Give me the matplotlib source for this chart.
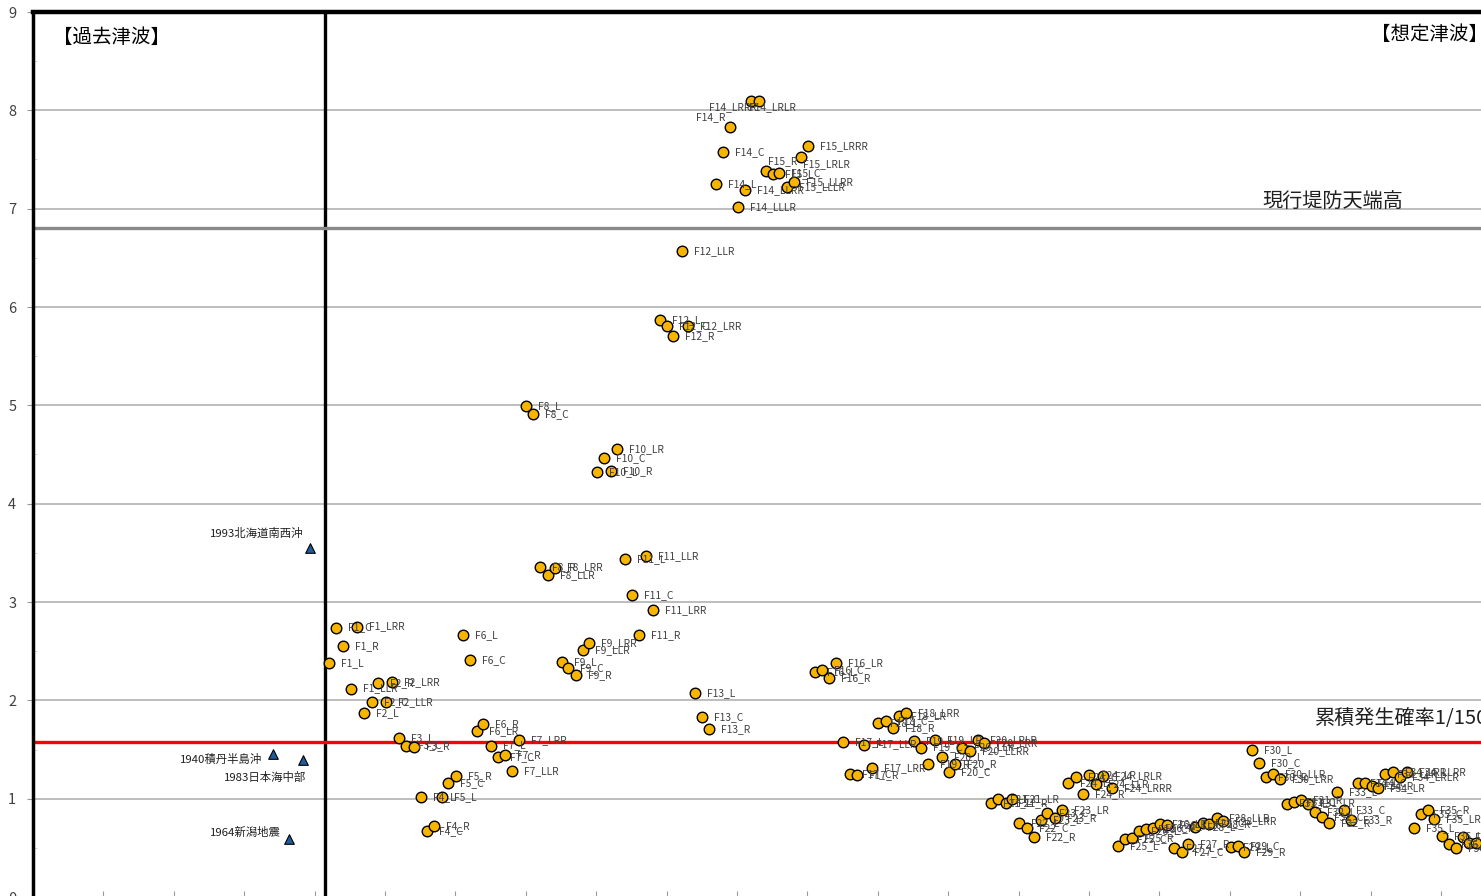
import numpy as np
import matplotlib
matplotlib.use('agg')
import matplotlib.pyplot as plt

plt.rcParams['font.family'] = ['Noto Sans CJK JP', 'DejaVu Sans']

# 過去津波 (past tsunamis)
past_names = ['1993北海道南西沖', '1940積丹半島沖', '1983日本海中部', '1964新潟地震']
past_x = [27.7, 24.0, 27.0, 25.6]
past_y = [3.55, 1.45, 1.39, 0.59]

# 想定津波 (scenario faults)
case_names = [
    'F1_L', 'F1_R', 'F1_C', 'F1_LRR', 'F1_LLR',
    'F2_L', 'F2_C', 'F2_LLR', 'F2_R', 'F2_LRR',
    'F3_L', 'F3_C', 'F3_R',
    'F4_L', 'F4_C', 'F4_R',
    'F5_L', 'F5_C', 'F5_R',
    'F6_L', 'F6_C', 'F6_LR', 'F6_R',
    'F7_L', 'F7_C', 'F7_R', 'F7_LLR', 'F7_LRR',
    'F8_L', 'F8_C', 'F8_R', 'F8_LLR', 'F8_LRR',
    'F9_L', 'F9_C', 'F9_R', 'F9_LLR', 'F9_LRR',
    'F10_L', 'F10_C', 'F10_R', 'F10_LR',
    'F11_L', 'F11_C', 'F11_R', 'F11_LLR', 'F11_LRR',
    'F12_L', 'F12_C', 'F12_R', 'F12_LLR', 'F12_LRR',
    'F13_L', 'F13_C', 'F13_R',
    'F14_L', 'F14_C', 'F14_R', 'F14_LLLR', 'F14_LLRR', 'F14_LRRR', 'F14_LRLR',
    'F15_R', 'F15_L', 'F15_C', 'F15_LLLR', 'F15_LLRR', 'F15_LRLR', 'F15_LRRR',
    'F16_L', 'F16_C', 'F16_R', 'F16_LR',
    'F17_L', 'F17_C', 'F17_R', 'F17_LLR', 'F17_LRR',
    'F18_L', 'F18_C', 'F18_R', 'F18_LR', 'F18_LRR',
    'F19_L', 'F19_C', 'F19_R', 'F19_LR',
    'F20_L', 'F20_C', 'F20_R', 'F20_LLR', 'F20_LLRR', 'F20_LRLR', 'F20_LRR',
    'F21_L', 'F21_C', 'F21_R', 'F21_LR',
    'F22_L', 'F22_C', 'F22_R',
    'F23_L', 'F23_C', 'F23_R', 'F23_LR',
    'F24_L', 'F24_C', 'F24_R', 'F24_LR', 'F24_LLR', 'F24_LRLR', 'F24_LRRR',
    'F25_L', 'F25_C', 'F25_R',
    'F26_L', 'F26_C', 'F26_R', 'F26_LR', 'F26_LLR',
    'F27_L', 'F27_C', 'F27_R',
    'F28_L', 'F28_C', 'F28_R', 'F28_LLR', 'F28_LRR',
    'F29_L', 'F29_C', 'F29_R',
    'F30_L', 'F30_C', 'F30_R', 'F30_LLR', 'F30_LRR',
    'F31_L', 'F31_C', 'F31_R', 'F31_LR',
    'F32_L', 'F32_C', 'F32_R',
    'F33_L', 'F33_C', 'F33_R',
    'F34_L', 'F34_C', 'F34_R', 'F34_LR', 'F34_LLR', 'F34_LRR', 'F34_LRLR', 'F34_LLRR',
    'F35_L', 'F35_C', 'F35_R', 'F35_LR',
    'F36_L', 'F36_C', 'F36_R', 'F36_LR', 'F36_LLR', 'F36_LRR',
]
case_x = [
    29.6, 31.0, 30.3, 32.4, 31.8,
    33.1, 33.9, 35.3, 34.5, 35.9,
    36.6, 37.3, 38.1,
    38.8, 39.4, 40.1,
    40.9, 41.5, 42.3,
    43.0, 43.7, 44.4, 45.0,
    45.8, 46.5, 47.2, 47.9, 48.6,
    49.3, 50.0, 50.7, 51.5, 52.2,
    52.9, 53.5, 54.3, 55.0, 55.6,
    56.4, 57.1, 57.8, 58.4,
    59.2, 59.9, 60.6, 61.3, 62.0,
    62.7, 63.4, 64.0, 64.9, 65.5,
    66.2, 66.9, 67.6,
    68.3, 69.0, 69.7, 70.5, 71.2, 71.8, 72.6,
    73.3, 74.0, 74.6, 75.4, 76.1, 76.8, 77.5,
    78.2, 78.9, 79.6, 80.3,
    81.0, 81.7, 82.4, 83.1, 83.9,
    84.5, 85.3, 86.0, 86.6, 87.3,
    88.1, 88.8, 89.5, 90.2,
    90.9, 91.6, 92.2, 92.9, 93.7, 94.5, 95.1,
    95.8, 96.5, 97.3, 97.9,
    98.6, 99.4, 100.1,
    100.8, 101.4, 102.2, 102.9,
    103.5, 104.3, 105.0, 105.6, 106.3, 107.0, 107.9,
    108.5, 109.2, 109.9,
    110.6, 111.3, 112.0, 112.7, 113.4,
    114.1, 114.9, 115.5,
    116.2, 117.0, 117.6, 118.4, 119.0,
    119.8, 120.5, 121.1,
    121.9, 122.6, 123.3, 124.0, 124.7,
    125.4, 126.1, 126.8, 127.5,
    128.2, 128.9, 129.6,
    130.4, 131.1, 131.8,
    132.5, 133.2, 133.9, 134.5, 135.2, 136.0, 136.7, 137.4,
    138.1, 138.8, 139.5, 140.1,
    140.9, 141.6, 142.3, 143.0, 143.6, 144.3,
]
case_y = [
    2.38, 2.55, 2.74, 2.75, 2.12,
    1.87, 1.98, 1.98, 2.18, 2.19,
    1.62, 1.54, 1.53,
    1.02, 0.67, 0.72,
    1.02, 1.16, 1.23,
    2.66, 2.41, 1.69, 1.76,
    1.54, 1.42, 1.44, 1.28, 1.60,
    4.99, 4.91, 3.36, 3.27, 3.35,
    2.39, 2.33, 2.26, 2.51, 2.58,
    4.32, 4.46, 4.33, 4.56,
    3.44, 3.07, 2.66, 3.47, 2.92,
    5.87, 5.81, 5.70, 6.57, 5.81,
    2.07, 1.83, 1.71,
    7.25, 7.58, 7.83, 7.02, 7.19, 8.10, 8.10,
    7.38, 7.35, 7.36, 7.22, 7.27, 7.53, 7.64,
    2.29, 2.31, 2.23, 2.38,
    1.58, 1.25, 1.24, 1.55, 1.31,
    1.77, 1.79, 1.72, 1.84, 1.87,
    1.59, 1.52, 1.35, 1.60,
    1.42, 1.27, 1.35, 1.52, 1.48, 1.60, 1.57,
    0.96, 1.00, 0.96, 1.00,
    0.75, 0.70, 0.61,
    0.78, 0.85, 0.80, 0.88,
    1.16, 1.22, 1.05, 1.24, 1.15, 1.23, 1.11,
    0.52, 0.59, 0.60,
    0.67, 0.69, 0.70, 0.74, 0.73,
    0.50, 0.46, 0.54,
    0.71, 0.75, 0.74, 0.80, 0.77,
    0.51, 0.52, 0.46,
    1.49, 1.36, 1.22, 1.25, 1.20,
    0.95, 0.97, 0.99, 0.95,
    0.86, 0.81, 0.75,
    1.07, 0.88, 0.78,
    1.16, 1.16, 1.13, 1.11, 1.25, 1.27, 1.22, 1.27,
    0.70, 0.84, 0.88, 0.79,
    0.62, 0.54, 0.50, 0.61, 0.55, 0.55,
]

seawall_top = 6.8      # 現行堤防天端高
prob_level = 1.58      # 累積発生確率ライン
split_x = 29.2         # 過去 / 想定 の境

# label offsets (pixels) that differ from the default
label_shift = {
    'F14_LRRR': (-42, -7),
    'F14_LRLR': (-10, -7),
    'F14_R': (-34, 10),
    'F15_R': (2, 10),
    'F15_LRLR': (2, -8),
}
past_shift = {
    '1993北海道南西沖': (-7, 15),
    '1940積丹半島沖': (-11, -5),
    '1983日本海中部': (3, -17),
    '1964新潟地震': (-8, 7),
}

fig = plt.figure(figsize=(14.81, 8.96), dpi=100)
ax = fig.add_axes([33 / 1481, -1 / 896, 1500 / 1481, 885 / 896])

ax.set_xlim(0, 150)
ax.set_ylim(0, 9)
ax.set_yticks(range(0, 10))
ax.set_yticks(np.arange(0.5, 9, 1), minor=True)
ax.set_xticks(np.arange(0, 150, 7.04))
ax.set_xticklabels([])
ax.tick_params(axis='x', direction='in', length=4, color='#999999')
ax.tick_params(axis='y', which='major', length=4, color='#999999',
               labelsize=10.5, labelcolor='#404040', pad=8)
ax.tick_params(axis='y', which='minor', direction='in', length=3, color='#cccccc')
ax.grid(axis='y', color='#b8b8b8', lw=1.3)
ax.set_axisbelow(True)

ax.spines['top'].set_linewidth(3.2)
ax.spines['left'].set_linewidth(2.5)
for s in ['top', 'left', 'right', 'bottom']:
    ax.spines[s].set_color('black')

ax.axvline(split_x, color='black', lw=2.4, zorder=2)
ax.axhline(seawall_top, color='#8a8a8a', lw=2.4, zorder=2)
ax.axhline(prob_level, color='#ff0000', lw=2.4, zorder=2)

ax.scatter(case_x, case_y, s=58, color='#f7b500', edgecolors='black',
           linewidths=1.0, zorder=4)
for name, x, y in zip(case_names, case_x, case_y):
    dx, dy = label_shift.get(name, (12, 0))
    ax.annotate(name, (x, y), xytext=(dx, dy), textcoords='offset pixels',
                fontsize=7.4, color='#404040', va='center', ha='left', zorder=5)

ax.scatter(past_x, past_y, marker='^', s=48, color='#1f5c99',
           edgecolors='black', linewidths=0.8, zorder=4)
for name, x, y in zip(past_names, past_x, past_y):
    dx, dy = past_shift[name]
    ax.annotate(name, (x, y), xytext=(dx, dy), textcoords='offset pixels',
                fontsize=8.2, color='#202020', va='center', ha='right', zorder=5)

ax.text(2.0, 8.74, '【過去津波】', fontsize=14, va='center', ha='left')
ax.text(133.8, 8.77, '【想定津波】', fontsize=14, va='center', ha='left')
ax.text(122.9, 7.06, '現行堤防天端高', fontsize=14.5, va='center', ha='left',
        color='#202020')
ax.text(128.2, 1.82, '累積発生確率1/150', fontsize=14.5, va='center', ha='left',
        color='#202020')

fig.savefig('out.png', dpi=100)
